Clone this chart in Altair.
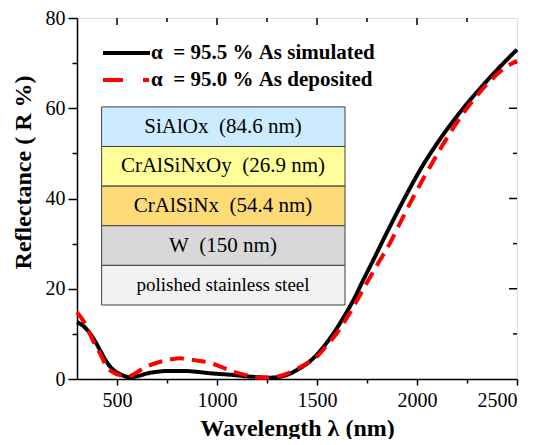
import altair as alt
import pandas as pd

# ---- data ----
sim_nm = [300, 330, 365, 390, 415, 440, 465, 490, 515, 540, 565, 600, 648, 700, 765, 830,
          898, 960, 1015, 1080, 1148, 1210, 1265, 1315, 1348, 1380, 1415, 1450, 1482,
          1530, 1582, 1632, 1682, 1732, 1782, 1832, 1882, 1932, 1982, 2030, 2082, 2130,
          2180, 2248, 2330, 2415, 2500]
sim_R = [12.6, 11.8, 10.1, 8.4, 6.4, 4.4, 2.8, 1.7, 1.1, 0.6, 0.4, 0.6, 1.2, 1.6, 1.8, 1.8,
         1.6, 1.3, 1.1, 0.9, 0.6, 0.4, 0.3, 0.5, 0.9, 1.5, 2.4, 3.4, 4.6,
         7.0, 10.1, 13.6, 17.5, 22.0, 26.4, 30.9, 35.3, 39.6, 43.7, 47.4, 51.0, 54.1,
         57.1, 60.9, 65.1, 69.2, 73.0]

dep_nm = [300, 330, 348, 380, 415, 448, 480, 520, 557, 590, 632, 700, 765, 815, 848,
          900, 965, 1020, 1082, 1150, 1215, 1260, 1298, 1350, 1415, 1460, 1500, 1550,
          1600, 1632, 1690, 1748, 1805, 1865, 1920, 1973, 2020, 2065, 2130, 2190, 2260,
          2323, 2380, 2432, 2470, 2500]
dep_R = [14.8, 13.0, 11.6, 8.5, 5.7, 2.7, 1.5, 0.8, 0.6, 1.2, 2.4, 3.6, 4.3, 4.6, 4.4,
         4.1, 3.6, 2.7, 1.6, 0.8, 0.3, 0.3, 0.5, 1.2, 2.6, 3.8, 5.0, 7.5,
         10.2, 12.3, 16.6, 21.2, 25.6, 30.1, 35.0, 39.6, 43.5, 47.0, 52.0, 56.2, 60.6,
         64.0, 66.7, 68.7, 69.8, 70.5]

NB = "\u00a0"
series_names = ["\u03b1" + NB + " = 95.5 % As simulated", "\u03b1" + NB + " = 95.0 % As deposited"]
series_colors = ["black", "#FF0000"]

layer_names = ["SiAlOx" + NB + " (84.6 nm)", "CrAlSiNxOy" + NB + " (26.9 nm)",
               "CrAlSiNx" + NB + " (54.4 nm)", "W" + NB + " (150 nm)", "polished stainless steel"]
layer_colors = ["#CCEBFF", "#FFFF99", "#FFDB77", "#D8D8D8", "#F2F2F2"]

x_major = [500, 1000, 1500, 2000, 2500]
x_minor = [750, 1250, 1750, 2250]
y_major = [0, 20, 40, 60, 80]
y_minor = [10, 30, 50, 70]

# ---- layout constants ----
BOX_X0, BOX_X1 = 423, 1640
BOX_TOP, ROW_H = 60.3, 8.78
TEXT_X = 1030
LEG_X0, LEG_X1, LEG_TX = 26, 73, 74      # pixels inside the plot
LEG_Y = [35, 62]

FONT = "Liberation Serif"
W, H = 440, 361

lines_df = pd.concat([
    pd.DataFrame({"wl": sim_nm, "R": sim_R, "series": series_names[0]}),
    pd.DataFrame({"wl": dep_nm, "R": dep_R, "series": series_names[1]}),
])

rows = []
for i, (name, col) in enumerate(zip(layer_names, layer_colors)):
    top = BOX_TOP - i * ROW_H
    rows.append({"name": name, "color": col, "x0": BOX_X0, "x1": BOX_X1,
                 "top": top, "bot": top - ROW_H, "mid": top - ROW_H / 2,
                 "tx": TEXT_X, "small": i == 4})
layers_df = pd.DataFrame(rows)

xscale = alt.Scale(domain=[300, 2500], nice=False, zero=False)
yscale = alt.Scale(domain=[0, 80], nice=False)

x_axis = alt.Axis(
    values=sorted(x_major + x_minor),
    labelExpr="datum.value % 500 == 0 ? datum.label : ''",
    tickSize={"condition": {"test": "datum.value % 500 == 0", "value": 6}, "value": 4},
    title="Wavelength \u03bb (nm)", titleFont=FONT, titleFontSize=24, titleFontWeight="bold",
    titleColor="black", titleY=37,
    labelFont=FONT, labelFontSize=20, labelColor="black", labelPadding=5,
    domainColor="black", domainWidth=1.5, tickColor="black", tickWidth=1.5,
    grid=False, format="d", labelOverlap=False,
)
y_axis = alt.Axis(
    values=sorted(y_major + y_minor),
    labelExpr="datum.value % 20 == 0 ? datum.label : ''",
    tickSize={"condition": {"test": "datum.value % 20 == 0", "value": 9}, "value": 5},
    title="Reflectance ( R %)", titleFont=FONT, titleFontSize=24, titleFontWeight="bold",
    titleColor="black", titleX=-54, titleY=154, titleBaseline="middle",
    labelFont=FONT, labelFontSize=20, labelColor="black", labelPadding=3,
    domainColor="black", domainWidth=1.5, tickColor="black", tickWidth=1.5,
    grid=False, labelOverlap=False,
)

lines = alt.Chart(lines_df).mark_line(strokeWidth=4, interpolate="monotone").encode(
    x=alt.X("wl:Q", scale=xscale, axis=x_axis),
    y=alt.Y("R:Q", scale=yscale, axis=y_axis),
    color=alt.Color("series:N", scale=alt.Scale(domain=series_names, range=series_colors),
                    legend=None),
    strokeDash=alt.StrokeDash("series:N", scale=alt.Scale(domain=series_names, range=[[1, 0], [14, 8]]),
                              legend=None),
)

boxes = alt.Chart(layers_df).mark_rect(stroke="#404040", strokeWidth=1).encode(
    x=alt.X("x0:Q", scale=xscale, axis=x_axis), x2="x1:Q",
    y=alt.Y("top:Q", scale=yscale, axis=y_axis), y2="bot:Q",
    fill=alt.Fill("color:N", scale=None),
)
texts_big = alt.Chart(layers_df[~layers_df["small"]]).mark_text(
    font=FONT, fontSize=21, color="black", align="center", baseline="middle").encode(
    x=alt.X("tx:Q", scale=xscale, axis=x_axis), y=alt.Y("mid:Q", scale=yscale, axis=y_axis),
    text="name:N")
texts_small = alt.Chart(layers_df[layers_df["small"]]).mark_text(
    font=FONT, fontSize=19, color="black", align="center", baseline="middle").encode(
    x=alt.X("tx:Q", scale=xscale, axis=x_axis), y=alt.Y("mid:Q", scale=yscale, axis=y_axis),
    text="name:N")

def top_ticks(vals, length):
    return alt.Chart(pd.DataFrame({"v": vals})).mark_rule(color="black", strokeWidth=1.5).encode(
        x=alt.X("v:Q", scale=xscale, axis=x_axis), y=alt.value(0), y2=alt.value(length))

def right_ticks(vals, length):
    return alt.Chart(pd.DataFrame({"v": vals})).mark_rule(color="black", strokeWidth=1.5).encode(
        y=alt.Y("v:Q", scale=yscale, axis=y_axis), x=alt.value(W), x2=alt.value(W - length))

# manual legend
leg_dash = [[1, 0], [20, 20, 6, 100]]
legend_layers = []
for i in range(2):
    legend_layers.append(
        alt.Chart(pd.DataFrame({"s": [series_names[i]]})).mark_rule(
            color=series_colors[i], strokeWidth=4, strokeDash=leg_dash[i]).encode(
            x=alt.value(LEG_X0), x2=alt.value(LEG_X1), y=alt.value(LEG_Y[i])))
    legend_layers.append(
        alt.Chart(pd.DataFrame({"s": [series_names[i]]})).mark_text(
            font=FONT, fontSize=21, fontWeight="bold", color="black",
            align="left", baseline="middle").encode(
            x=alt.value(LEG_TX), y=alt.value(LEG_Y[i]), text="s:N"))

chart = alt.layer(
    boxes, texts_big, texts_small,
    top_ticks(x_major[:-1], 7), top_ticks(x_minor, 4),
    right_ticks(y_major[1:-1], 8), right_ticks(y_minor, 4),
    lines, *legend_layers,
).properties(
    width=W, height=H,
    autosize=alt.AutoSizeParams(type="none"),
    padding={"left": 69, "top": 10, "right": 15, "bottom": 60},
).configure_view(stroke="black", strokeWidth=1.5).configure(background="white")

chart.save("out.html", embed_options={"renderer": "svg", "actions": False})
